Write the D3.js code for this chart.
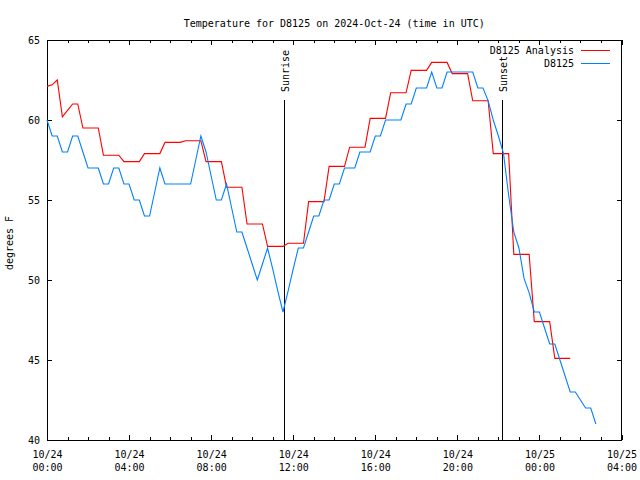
<!DOCTYPE html>
<html>
<head>
<meta charset="utf-8">
<script src="https://cdn.jsdelivr.net/npm/d3@7"></script>
<style>
  html, body { margin: 0; padding: 0; background: #ffffff; }
  svg { display: block; }
  text { font-family: "DejaVu Sans Mono", "Liberation Mono", monospace; font-size: 10px; fill: #000; }
</style>
</head>
<body>
<svg id="chart" width="640" height="480"></svg>
<script>
// ---------------- DATA ----------------
const titleText = "Temperature for D8125 on 2024-Oct-24 (time in UTC)";
const yLabelText = "degrees F";
const seriesNames = ["D8125 Analysis", "D8125"];
const seriesColors = ["#ff0000", "#0080ff"];

// sampling: one value every 15 minutes starting 2024-10-24 00:00 UTC
const startISO = "2024-10-24T00:00:00Z";
const endISO = "2024-10-25T04:00:00Z";
const sampleMinutes = 15;

// D8125 Analysis (red), 15-minute samples
const analysisValues = [
  62.1, 62.2, 62.5,
  60.2, 60.6, 61.0, 61.0,
  59.5, 59.5, 59.5, 59.5,
  57.8, 57.8, 57.8, 57.8,
  57.4, 57.4, 57.4, 57.4,
  57.9, 57.9, 57.9, 57.9,
  58.6, 58.6, 58.6, 58.6,
  58.7, 58.7, 58.7, 58.7,
  57.4, 57.4, 57.4, 57.4,
  55.8, 55.8, 55.8, 55.8,
  53.5, 53.5, 53.5, 53.5,
  52.1, 52.1, 52.1, 52.1,
  52.3, 52.3, 52.3, 52.3,
  54.9, 54.9, 54.9, 54.9,
  57.1, 57.1, 57.1, 57.1,
  58.3, 58.3, 58.3, 58.3,
  60.1, 60.1, 60.1, 60.1,
  61.7, 61.7, 61.7, 61.7,
  63.1, 63.1, 63.1, 63.1,
  63.6, 63.6, 63.6, 63.6,
  62.9, 62.9, 62.9, 62.9,
  61.2, 61.2, 61.2, 61.2,
  57.9, 57.9, 57.9, 57.9,
  51.6, 51.6, 51.6, 51.6,
  47.4, 47.4, 47.4, 47.4,
  45.1, 45.1, 45.1, 45.1
];

// D8125 observations (blue), 15-minute samples
const observedValues = [
  60, 59, 59, 58, 58, 59, 59, 58, 57, 57,
  57, 56, 56, 57, 57, 56, 56, 55, 55, 54,
  54, 55.5, 57, 56, 56, 56, 56, 56, 56, 57.5,
  59, 58, 56.5, 55, 55, 56, 54.5, 53, 53, 52,
  51, 50, 51, 52, 50.7, 49.3, 48, 49.3, 50.7, 52,
  52, 53, 54, 54, 55, 55, 56, 56, 57, 57,
  57, 58, 58, 58, 59, 59, 60, 60, 60, 60,
  61, 61, 62, 62, 62, 63, 62, 62, 63, 63,
  63, 63, 63, 63, 62, 62, 61.2, 60, 59, 57.9,
  55.3, 53, 52, 50.1, 49.2, 48, 48, 47, 46, 46,
  45, 44, 43, 43, 42.5, 42, 42, 41
];

// sun events (UTC)
const sunEvents = [
  { label: "Sunrise", time: "2024-10-24T11:34:00Z" },
  { label: "Sunset",  time: "2024-10-24T22:11:00Z" }
];

// axis ticks
const yTicks = [40, 45, 50, 55, 60, 65];
const xMajorTicks = [
  "2024-10-24T00:00:00Z", "2024-10-24T04:00:00Z", "2024-10-24T08:00:00Z",
  "2024-10-24T12:00:00Z", "2024-10-24T16:00:00Z", "2024-10-24T20:00:00Z",
  "2024-10-25T00:00:00Z", "2024-10-25T04:00:00Z"
];
const xTickLine1 = ["10/24", "10/24", "10/24", "10/24", "10/24", "10/24", "10/25", "10/25"];
const xTickLine2 = ["00:00", "04:00", "08:00", "12:00", "16:00", "20:00", "00:00", "04:00"];

// ---------------- CHART ----------------
const svg = d3.select("#chart");
const margin = { left: 47, right: 18.5, top: 40, bottom: 40 };
const W = 640, H = 480;

const t0 = new Date(startISO), t1 = new Date(endISO);
const x = d3.scaleUtc().domain([t0, t1]).range([margin.left, W - margin.right]);
const y = d3.scaleLinear().domain([40, 65]).range([H - margin.bottom, margin.top]);

const toSeries = vals => vals.map((v, i) => ({ t: new Date(t0.getTime() + i * sampleMinutes * 60000), v }));
const series = [toSeries(analysisValues), toSeries(observedValues)];

// title
svg.append("text")
  .attr("x", (x.range()[0] + x.range()[1]) / 2)
  .attr("y", 27)
  .attr("text-anchor", "middle")
  .text(titleText);

// y label
svg.append("text")
  .attr("transform", `translate(13,${(y.range()[0] + y.range()[1]) / 2 + 3}) rotate(-90)`)
  .attr("text-anchor", "middle")
  .text(yLabelText);

const majorDates = xMajorTicks.map(s => new Date(s));
const minorDates = d3.utcHour.every(1).range(t0, new Date(t1.getTime() + 1));

function styleAxis(g) {
  g.selectAll(".domain").remove();
  g.selectAll("line").attr("stroke", "#000").attr("shape-rendering", "crispEdges");
  g.attr("font-family", null).attr("font-size", null);
}

// bottom axis (major + labels)
const gB = svg.append("g").attr("transform", `translate(0,${y(40)})`)
  .call(d3.axisBottom(x).tickValues(majorDates).tickSize(-5).tickSizeOuter(0).tickPadding(0).tickFormat(() => ""));
styleAxis(gB);
gB.selectAll(".tick text").each(function(d, i) {
  const t = d3.select(this);
  t.text(null).attr("y", null).attr("dy", null);
  t.append("tspan").attr("x", 0).attr("y", 18).text(xTickLine1[i]);
  t.append("tspan").attr("x", 0).attr("y", 31).text(xTickLine2[i]);
});
// bottom minor
styleAxis(svg.append("g").attr("transform", `translate(0,${y(40)})`)
  .call(d3.axisBottom(x).tickValues(minorDates).tickSize(-3).tickSizeOuter(0).tickFormat(() => "")));
// top axis
styleAxis(svg.append("g").attr("transform", `translate(0,${y(65)})`)
  .call(d3.axisTop(x).tickValues(majorDates).tickSize(-5).tickSizeOuter(0).tickFormat(() => "")));
styleAxis(svg.append("g").attr("transform", `translate(0,${y(65)})`)
  .call(d3.axisTop(x).tickValues(minorDates).tickSize(-3).tickSizeOuter(0).tickFormat(() => "")));

// left axis
const gL = svg.append("g").attr("transform", `translate(${x(t0)},0)`)
  .call(d3.axisLeft(y).tickValues(yTicks).tickSize(-5).tickSizeOuter(0).tickPadding(7).tickFormat(d3.format("d")));
styleAxis(gL);
gL.selectAll(".tick text").attr("dy", "0.35em");
// right axis
styleAxis(svg.append("g").attr("transform", `translate(${x(t1)},0)`)
  .call(d3.axisRight(y).tickValues(yTicks).tickSize(-5).tickSizeOuter(0).tickFormat(() => "")));

// frame
svg.append("rect")
  .attr("x", x(t0)).attr("y", y(65))
  .attr("width", x(t1) - x(t0)).attr("height", y(40) - y(65))
  .attr("fill", "none").attr("stroke", "#000").attr("shape-rendering", "crispEdges");

// sun events
sunEvents.forEach(ev => {
  const xx = Math.round(x(new Date(ev.time))) + 0.5;
  svg.append("line")
    .attr("x1", xx).attr("x2", xx).attr("y1", 100).attr("y2", y(40))
    .attr("stroke", "#000").attr("stroke-width", 1);
  svg.append("text")
    .attr("transform", `translate(${xx + 4},92) rotate(-90)`)
    .attr("text-anchor", "start")
    .text(ev.label);
});

// data lines
const line = d3.line().x(d => x(d.t)).y(d => y(d.v));
series.forEach((s, i) => {
  svg.append("path")
    .datum(s)
    .attr("fill", "none")
    .attr("stroke", seriesColors[i])
    .attr("stroke-width", 1.1)
    .attr("d", line);
});

// legend
seriesNames.forEach((name, i) => {
  const ly = 50 + i * 13;
  svg.append("text")
    .attr("x", 574).attr("y", ly).attr("dy", "0.35em")
    .attr("text-anchor", "end")
    .text(name);
  svg.append("line")
    .attr("x1", 581).attr("x2", 610).attr("y1", ly + 0.5).attr("y2", ly + 0.5)
    .attr("stroke", seriesColors[i]).attr("stroke-width", 1);
});
</script>
</body>
</html>
